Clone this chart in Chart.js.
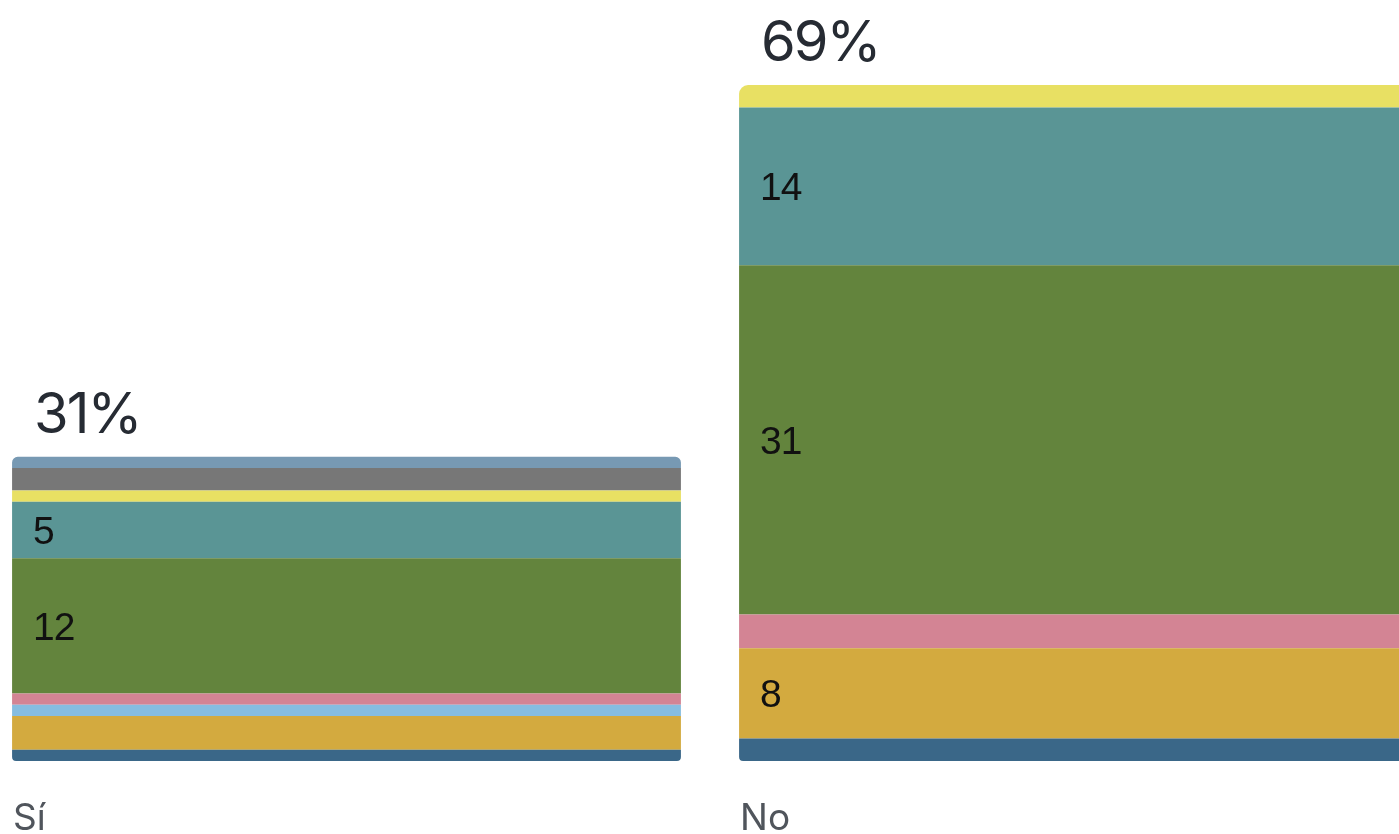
<!DOCTYPE html>
<html lang="es">
<head>
<meta charset="utf-8">
<title>Sí / No</title>
<script src="https://cdn.jsdelivr.net/npm/chart.js@4.4.1/dist/chart.umd.min.js"></script>
<style>
  html, body { margin: 0; padding: 0; background: #ffffff; overflow: hidden; }
  body { width: 1399px; height: 834px; position: relative; }
  /* le graphique déborde volontairement à gauche et à droite */
  #wrap { position: absolute; left: -17px; top: 0; width: 1454px; height: 834px; }
</style>
</head>
<body>
<div id="wrap"><canvas id="chart"></canvas></div>
<script>
/* ---- données (de bas en haut de la pile) ---- */
const categories   = ['Sí', 'No'];
const totalLabels  = ['31%', '69%'];

const serieBleuFonce = [1, 2];
const serieOr        = [3, 8];
const serieBleuClair = [1, 0];
const serieRose      = [1, 3];
const serieVert      = [12, 31];
const serieSarcelle  = [5, 14];
const serieJaune     = [1, 2];
const serieGris      = [2, 0];
const serieAcier     = [1, 0];

const SERIES = [
  { data: serieBleuFonce, color: '#3a6788' },
  { data: serieOr,        color: '#d3aa3f' },
  { data: serieBleuClair, color: '#86bde0' },
  { data: serieRose,      color: '#d38494' },
  { data: serieVert,      color: '#63843d' },
  { data: serieSarcelle,  color: '#5a9595' },
  { data: serieJaune,     color: '#e8e063' },
  { data: serieGris,      color: '#777777' },
  { data: serieAcier,     color: '#7799b3' },
];

const MIN_LABEL = 5;   // les petits segments n'ont pas d'étiquette

// premier / dernier segment non nul pour chaque catégorie → coins arrondis
function edges(i) {
  const idx = SERIES.map((s, k) => (s.data[i] > 0 ? k : -1)).filter(k => k >= 0);
  return { bottom: idx[0], top: idx[idx.length - 1] };
}

function radiusFor(ctx) {
  const e = edges(ctx.dataIndex);
  const r = { topLeft: 0, topRight: 0, bottomLeft: 0, bottomRight: 0 };
  if (ctx.datasetIndex === e.top)    { r.topLeft = 9; r.topRight = 9; }
  if (ctx.datasetIndex === e.bottom) { r.bottomLeft = 4; r.bottomRight = 4; }
  return r;
}

/* ---- étiquettes dessinées par-dessus les barres ---- */
const labelsPlugin = {
  id: 'labels',
  afterDatasetsDraw(chart) {
    const c = chart.ctx;
    const y = chart.scales.y;
    c.save();

    // valeurs dans les segments
    c.fillStyle = '#111111';
    c.font = '39px "Liberation Sans", Arial, sans-serif';
    c.letterSpacing = '-1px';
    c.textBaseline = 'alphabetic';
    chart.data.datasets.forEach((ds, k) => {
      chart.getDatasetMeta(k).data.forEach((bar, i) => {
        const v = ds.data[i];
        if (v < MIN_LABEL) return;
        const left = bar.x - bar.width / 2;
        const mid = (bar.y + bar.base) / 2;
        c.fillText(String(v), left + 21, mid + 39 * 0.36);
      });
    });

    // pourcentages au-dessus + catégories en bas
    const first = chart.getDatasetMeta(0).data;
    categories.forEach((cat, i) => {
      const bar = first[i];
      const left = bar.x - bar.width / 2;
      const total = SERIES.reduce((s, x) => s + x.data[i], 0);
      const top = y.getPixelForValue(total);

      c.fillStyle = '#262b33';
      c.font = '56px Inter, "Noto Sans", sans-serif';
      c.letterSpacing = '-2px';
      c.fillText(totalLabels[i], left + 22, top - 24);

      c.fillStyle = '#50555c';
      c.font = '37px Inter, "Noto Sans", sans-serif';
      c.letterSpacing = '0px';
      c.fillText(cat, left + 1, y.getPixelForValue(0) + 69);
    });
    c.restore();
  }
};

new Chart(document.getElementById('chart'), {
  type: 'bar',
  data: {
    labels: categories,
    datasets: SERIES.map(s => ({
      data: s.data,
      backgroundColor: s.color,
      borderWidth: 0,
      borderSkipped: false,
      borderRadius: radiusFor,
      barPercentage: 0.92,
      categoryPercentage: 1,
    })),
  },
  options: {
    responsive: true,
    maintainAspectRatio: false,
    animation: false,
    layout: { padding: { top: 85, bottom: 73, left: 0, right: 0 } },
    plugins: { legend: { display: false }, tooltip: { enabled: false } },
    scales: {
      x: { stacked: true, display: false, grid: { display: false } },
      y: { stacked: true, display: false, min: 0, max: 60, grid: { display: false } },
    },
  },
  plugins: [labelsPlugin],
});
</script>
</body>
</html>
